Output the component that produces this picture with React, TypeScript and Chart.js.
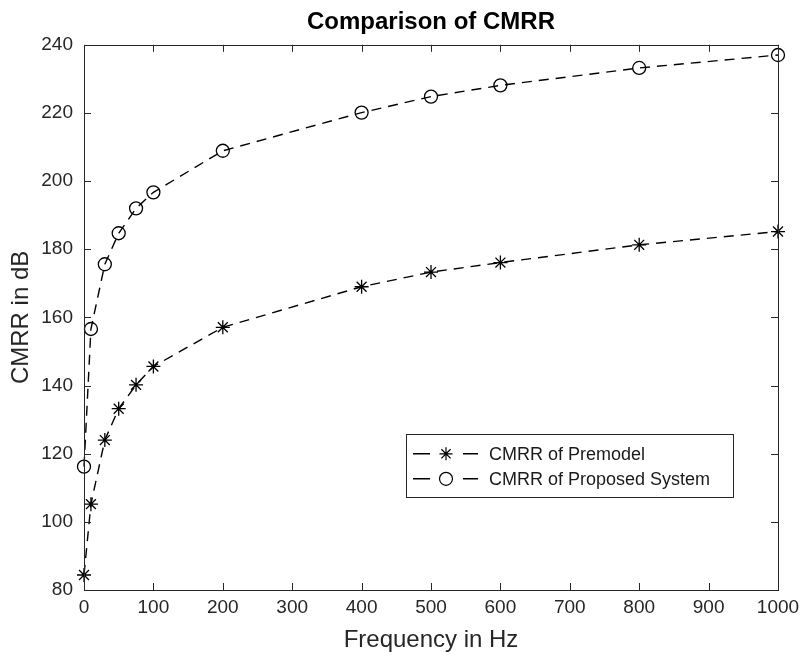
import React, { useEffect, useRef } from 'react';
import { Chart, registerables } from 'chart.js';

Chart.register(...registerables);

const frequencies = [0, 10, 30, 50, 75, 100, 200, 400, 500, 600, 800, 1000];
const premodelCMRR = [84.4, 105.2, 124, 133.2, 140.2, 145.6, 157.1, 169, 173.3, 176.1, 181.3, 185.2];
const proposedCMRR = [116.2, 156.6, 175.6, 184.7, 192, 196.7, 208.9, 220.1, 224.8, 228.1, 233.2, 237];
const seriesNames = ['CMRR of Premodel', 'CMRR of Proposed System'];
const seriesMarkers = ['star', 'circle'];
const chartTitle = 'Comparison of CMRR';
const xAxisTitle = 'Frequency in Hz';
const yAxisTitle = 'CMRR in dB';
const xRange = [0, 1000, 100];
const yRange = [80, 240, 20];

const FONT = "'Liberation Sans', Arial, Helvetica, sans-serif";
const AXIS_COLOR = '#262626';

function drawMarker(ctx: CanvasRenderingContext2D, style: string, x: number, y: number, r: number) {
  ctx.beginPath();
  if (style === 'circle') {
    ctx.arc(x, y, r, 0, Math.PI * 2);
  } else {
    for (let i = 0; i < 4; i++) {
      const a = (i * Math.PI) / 4;
      ctx.moveTo(x - Math.cos(a) * r, y - Math.sin(a) * r);
      ctx.lineTo(x + Math.cos(a) * r, y + Math.sin(a) * r);
    }
  }
  ctx.stroke();
}

const boxPlugin = {
  id: 'matlabBox',
  afterDraw(chart: any) {
    const { ctx, chartArea: a, scales } = chart;
    ctx.save();
    ctx.strokeStyle = AXIS_COLOR;
    ctx.lineWidth = 1;
    ctx.setLineDash([]);
    ctx.strokeRect(Math.round(a.left) + 0.5, Math.round(a.top) + 0.5, Math.round(a.right - a.left), Math.round(a.bottom - a.top));
    const tl = 7;
    ctx.beginPath();
    scales.x.ticks.forEach((t: any) => {
      const px = Math.round(scales.x.getPixelForValue(t.value)) + 0.5;
      ctx.moveTo(px, a.bottom);
      ctx.lineTo(px, a.bottom - tl);
      ctx.moveTo(px, a.top);
      ctx.lineTo(px, a.top + tl);
    });
    scales.y.ticks.forEach((t: any) => {
      const py = Math.round(scales.y.getPixelForValue(t.value)) + 0.5;
      ctx.moveTo(a.left, py);
      ctx.lineTo(a.left + tl, py);
      ctx.moveTo(a.right, py);
      ctx.lineTo(a.right - tl, py);
    });
    ctx.stroke();
    ctx.restore();
  },
};

const legendPlugin = {
  id: 'matlabLegend',
  afterDraw(chart: any) {
    const { ctx, chartArea: a } = chart;
    const right = a.right - 45;
    const top = a.top + 389;
    const width = 327;
    const height = 63;
    const left = right - width;
    ctx.save();
    ctx.fillStyle = '#ffffff';
    ctx.fillRect(left, top, width, height);
    ctx.strokeStyle = AXIS_COLOR;
    ctx.lineWidth = 1;
    ctx.strokeRect(Math.round(left) + 0.5, Math.round(top) + 0.5, width, height);
    chart.data.datasets.forEach((ds: any, i: number) => {
      const cy = top + 20 + i * 25;
      ctx.strokeStyle = '#000';
      ctx.lineWidth = 1.5;
      ctx.beginPath();
      ctx.moveTo(left + 7, cy);
      ctx.lineTo(left + 24, cy);
      ctx.moveTo(left + 57, cy);
      ctx.lineTo(left + 72, cy);
      ctx.stroke();
      ctx.lineWidth = 1.2;
      drawMarker(ctx, ds.pointStyle, left + 40, cy, 6.5);
      ctx.fillStyle = '#1a1a1a';
      ctx.font = `18px ${FONT}`;
      ctx.textBaseline = 'middle';
      ctx.textAlign = 'left';
      ctx.fillText(ds.label, left + 83, cy + 1);
    });
    ctx.restore();
  },
};

export default function App() {
  const ref = useRef<HTMLCanvasElement>(null);
  useEffect(() => {
    if (!ref.current) return;
    const makeData = (vals: number[]) => frequencies.map((f, i) => ({ x: f, y: vals[i] }));
    const chart = new Chart(ref.current, {
      type: 'line',
      data: {
        datasets: [premodelCMRR, proposedCMRR].map((vals, i) => ({
          label: seriesNames[i],
          data: makeData(vals),
          borderColor: '#000',
          borderWidth: 1.4,
          borderDash: [10, 7],
          pointStyle: seriesMarkers[i] as any,
          pointRadius: i === 0 ? 7 : 6.5,
          pointBorderWidth: 1.3,
          pointBorderColor: '#000',
          pointBackgroundColor: 'rgba(0,0,0,0)',
          tension: 0,
          fill: false,
          clip: false as any,
        })),
      },
      options: {
        animation: false,
        responsive: false,
        layout: { padding: { left: 0, right: 24, top: 0, bottom: 0 } },
        plugins: {
          legend: { display: false },
          tooltip: { enabled: false },
          title: {
            display: true,
            fullSize: false,
            text: chartTitle,
            color: '#000',
            font: { family: FONT, size: 24, weight: 'bold' },
            padding: { top: 8, bottom: 8 },
          },
        },
        scales: {
          x: {
            type: 'linear',
            min: xRange[0],
            max: xRange[1],
            grid: { display: false, drawTicks: false },
            border: { display: false },
            ticks: {
              stepSize: xRange[2],
              color: AXIS_COLOR,
              font: { family: FONT, size: 19 },
              padding: 6,
              maxRotation: 0,
              callback: (v: any) => String(v),
            },
            title: {
              display: true,
              text: xAxisTitle,
              color: AXIS_COLOR,
              font: { family: FONT, size: 24 },
              padding: { top: 0, bottom: 5 },
            },
            afterFit: (s: any) => {
              s.height = 70;
              s.paddingLeft = 0;
              s.paddingRight = 0;
            },
          },
          y: {
            type: 'linear',
            min: yRange[0],
            max: yRange[1],
            grid: { display: false, drawTicks: false },
            border: { display: false },
            ticks: {
              stepSize: yRange[2],
              color: AXIS_COLOR,
              font: { family: FONT, size: 19 },
              padding: 11,
              callback: (v: any) => String(v),
            },
            title: {
              display: true,
              text: yAxisTitle,
              color: AXIS_COLOR,
              font: { family: FONT, size: 24 },
              padding: { top: 7, bottom: 0 },
            },
            afterFit: (s: any) => { s.width = 84; },
          },
        },
      },
      plugins: [boxPlugin, legendPlugin],
    });
    return () => chart.destroy();
  }, []);
  return (
    <div style={{ position: 'absolute', left: 0, top: 0, width: 802, height: 660, background: '#fff' }}>
      <canvas ref={ref} width={802} height={660} />
    </div>
  );
}
